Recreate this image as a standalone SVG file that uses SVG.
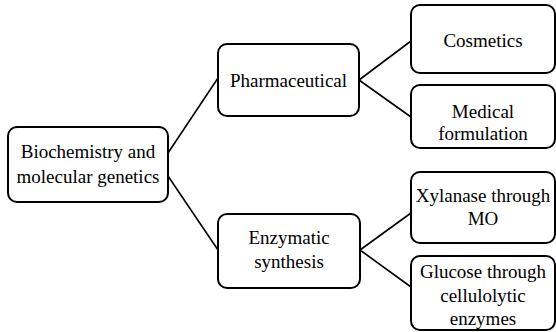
<svg xmlns="http://www.w3.org/2000/svg" width="556" height="332" viewBox="0 0 556 332" font-family="Liberation Serif, Times New Roman, serif" font-size="19">
<style>
.box{fill:#fff;stroke:#000;stroke-width:2}
text{font-family:"Liberation Serif",serif;text-anchor:middle;fill:#000}
.c{stroke:#000;stroke-width:1.6;fill:none}
</style>
<rect width="556" height="332" fill="#fff"/>
<g id="connectors">
<path class="c" d="M168 153 L218 78"/>
<path class="c" d="M168 176 L218 250"/>
<path class="c" d="M359 80 L411 41 M359 80 L411 117"/>
<path class="c" d="M360 250 L411 213 M360 250 L411 287"/>
</g>
<g id="n-biochem">
<rect class="box" x="8" y="127" width="160" height="75" rx="9"/>
<text x="88" y="158" style="font-family:'Liberation Serif',serif">Biochemistry and</text>
<text x="88" y="183">molecular genetics</text>
</g>
<g id="n-pharma">
<rect class="box" x="218" y="44" width="141" height="72" rx="9"/>
<text x="288.5" y="87">Pharmaceutical</text>
</g>
<g id="n-enzymatic">
<rect class="box" x="218" y="214" width="142" height="74" rx="9"/>
<text x="289" y="244">Enzymatic</text>
<text x="289" y="268">synthesis</text>
</g>
<g id="n-cosmetics">
<rect class="box" x="411" y="5" width="144" height="68" rx="9"/>
<text x="483" y="47">Cosmetics</text>
</g>
<g id="n-medical">
<rect class="box" x="411" y="85" width="144" height="63" rx="9"/>
<text x="483" y="118">Medical</text>
<text x="483" y="140">formulation</text>
</g>
<g id="n-xylanase">
<rect class="box" x="411" y="172" width="144" height="71" rx="9"/>
<text x="483" y="202">Xylanase through</text>
<text x="483" y="225">MO</text>
</g>
<g id="n-glucose">
<rect class="box" x="411" y="256" width="144" height="74" rx="9"/>
<text x="483" y="278">Glucose through</text>
<text x="483" y="302">cellulolytic</text>
<text x="483" y="325">enzymes</text>
</g>
</svg>
